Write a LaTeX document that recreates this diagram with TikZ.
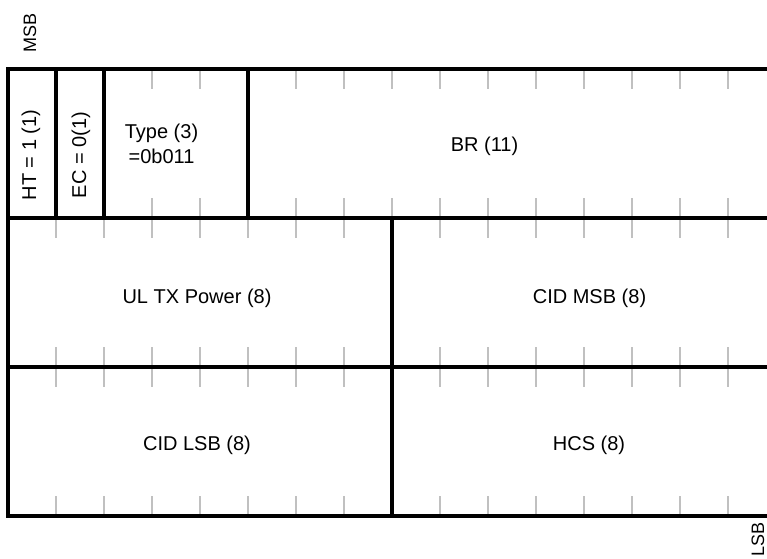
\documentclass[tikz,border=0pt]{standalone}
\usepackage{fontspec}
\setmainfont{Liberation Sans}
\definecolor{tickgray}{HTML}{C0C0C0}
\begin{document}
\begin{tikzpicture}[x=1pt,y=-1pt,
  frameline/.style={line width=3.3pt, black},
  tickline/.style={line width=2.7pt, tickgray},
  field/.style={font=\fontsize{20}{25}\selectfont, inner sep=0pt, anchor=base},
  vfield/.style={field, rotate=90},
  edgelabel/.style={font=\fontsize{18}{22}\selectfont, inner sep=0pt, anchor=base, rotate=90}]
\clip (0,0) rectangle (767,558);
% bit ticks
\foreach \yt/\yb in {69/218, 218/367, 367/516} {
  \foreach \i in {1,...,15} {
    \draw[tickline] ({8+48*\i}, \yt) -- ++(0,20);
    \draw[tickline] ({8+48*\i}, \yb) -- ++(0,-20);
  }
}
% frame
\draw[frameline] (776,69) -- (8,69) -- (8,516) -- (776,516);
\draw[frameline] (8,218) -- (776,218);
\draw[frameline] (8,367) -- (776,367);
\draw[frameline] (776,69) -- (776,516);
\draw[frameline] (56,69) -- (56,218);
\draw[frameline] (104,69) -- (104,218);
\draw[frameline] (248,69) -- (248,218);
\draw[frameline] (392,218) -- (392,516);
% labels
\node[edgelabel] (msb) at (36,33) {MSB};
\node[edgelabel] (lsb) at (764,539) {LSB};
\node[vfield] (ht) at (36,155) {HT = 1 (1)};
\node[vfield] (ec) at (86,155) {EC = 0(1)};
\node[font=\fontsize{20}{25}\selectfont, inner sep=0pt, align=center] (type) at (161.5,143.5) {Type (3)\\=0b011};
\node[field] (br) at (484.5,151) {BR (11)};
\node[field] (ultx) at (197,303) {UL TX Power (8)};
\node[field] (cidmsb) at (589.5,303) {CID MSB (8)};
\node[field] (cidlsb) at (197,450) {CID LSB (8)};
\node[field] (hcs) at (589,450) {HCS (8)};
\end{tikzpicture}
\end{document}
